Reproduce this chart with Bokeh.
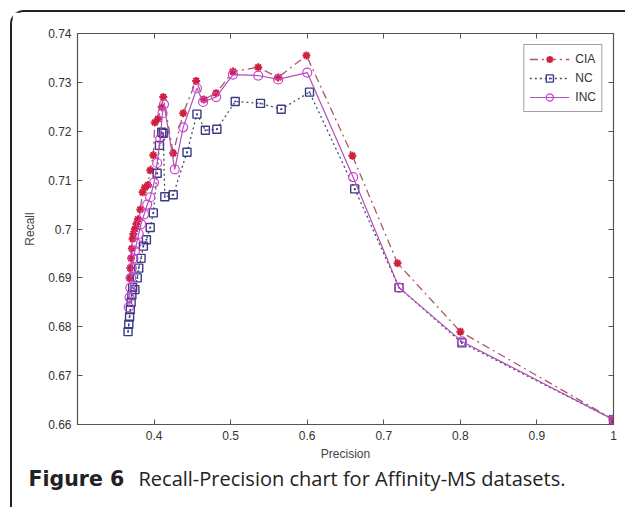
from bokeh.plotting import figure
from bokeh.layouts import column
from bokeh.models import (Range1d, LinearAxis, FixedTicker, CustomJSTickFormatter,
                          Legend, LegendItem, Label)
from bokeh.embed import file_html
from bokeh.resources import INLINE

# ---------------- data ----------------
cia_x = [0.368, 0.369, 0.370, 0.371, 0.372, 0.373, 0.375, 0.377, 0.379, 0.382, 0.385, 0.388,
         0.392, 0.395, 0.399, 0.401, 0.405, 0.410, 0.412, 0.425, 0.438, 0.455, 0.465, 0.481,
         0.503, 0.536, 0.562, 0.599, 0.659, 0.718, 0.800, 1.000]
cia_y = [0.690, 0.692, 0.694, 0.696, 0.698, 0.699, 0.700, 0.701, 0.702, 0.704, 0.7075, 0.7085,
         0.709, 0.712, 0.7151, 0.7218, 0.7225, 0.7249, 0.727, 0.7155, 0.7237, 0.7303, 0.7265,
         0.7278, 0.7322, 0.7331, 0.731, 0.7355, 0.715, 0.693, 0.679, 0.661]

nc_x = [0.366, 0.367, 0.368, 0.369, 0.370, 0.371, 0.372, 0.375, 0.378, 0.380, 0.383, 0.386,
        0.390, 0.395, 0.399, 0.404, 0.407, 0.410, 0.412, 0.414, 0.425, 0.443, 0.456, 0.467,
        0.482, 0.506, 0.539, 0.566, 0.603, 0.662, 0.720, 0.802, 1.000]
nc_y = [0.679, 0.6805, 0.682, 0.6835, 0.685, 0.6865, 0.688, 0.6876, 0.690, 0.692, 0.694,
        0.6965, 0.6978, 0.7003, 0.7033, 0.7114, 0.7171, 0.7198, 0.7196, 0.7066, 0.707, 0.7157,
        0.7235, 0.7202, 0.7204, 0.7261, 0.7257, 0.7245, 0.728, 0.7082, 0.688, 0.6767, 0.661]

inc_x = [0.367, 0.368, 0.369, 0.370, 0.371, 0.373, 0.375, 0.377, 0.380, 0.383, 0.387, 0.391,
         0.395, 0.400, 0.404, 0.408, 0.411, 0.413, 0.427, 0.438, 0.456, 0.464, 0.481, 0.503,
         0.536, 0.562, 0.600, 0.660, 0.720, 0.802, 1.000]
inc_y = [0.684, 0.686, 0.688, 0.690, 0.692, 0.694, 0.6955, 0.697, 0.699, 0.701, 0.703, 0.705,
         0.7065, 0.7095, 0.7135, 0.7185, 0.7237, 0.7255, 0.7122, 0.7208, 0.7288, 0.726, 0.727,
         0.7316, 0.7314, 0.7306, 0.732, 0.7106, 0.688, 0.677, 0.661]

x_ticks = [0.4, 0.5, 0.6, 0.7, 0.8, 0.9, 1.0]
y_ticks = [0.66, 0.67, 0.68, 0.69, 0.70, 0.71, 0.72, 0.73, 0.74]
series_names = ["CIA", "NC", "INC"]
x_label = "Precision"
y_label = "Recall"
caption_bold = "Figure 6"
caption_rest = "Recall-Precision chart for Affinity-MS datasets."

# ---------------- main figure ----------------
p = figure(width=613, height=451, output_backend="svg", toolbar_location=None,
           x_range=Range1d(0.3, 1.0), y_range=Range1d(0.66, 0.74),
           min_border_left=65, min_border_right=12, min_border_top=21, min_border_bottom=38,
           background_fill_color="white", border_fill_color="white")
p.frame_align = False
p.grid.visible = False
p.outline_line_color = "#555555"
p.outline_line_width = 1.2

fmt = CustomJSTickFormatter(code="return String(Math.round(tick*100)/100);")
FONT = "Liberation Sans"

def style_axis(ax, ticks, show_labels):
    ax.ticker = FixedTicker(ticks=ticks)
    ax.formatter = fmt
    ax.major_tick_in = 5
    ax.major_tick_out = 0
    ax.minor_tick_line_color = None
    ax.axis_line_color = "#555555"
    ax.major_tick_line_color = "#555555"
    ax.major_label_text_font = FONT
    ax.major_label_text_font_size = "12px"
    ax.major_label_text_color = "#333333" if show_labels else None
    ax.axis_label_text_font = FONT
    ax.axis_label_text_font_style = "normal"
    ax.axis_label_text_color = "#444444"
    ax.axis_label_text_font_size = "12px"

style_axis(p.xaxis[0], x_ticks, True)
style_axis(p.yaxis[0], y_ticks, True)
p.xaxis[0].axis_label = x_label
p.yaxis[0].axis_label = y_label
p.xaxis[0].major_label_standoff = 6
p.yaxis[0].major_label_standoff = 6
p.xaxis[0].axis_label_standoff = 4
p.yaxis[0].axis_label_standoff = 8

top_ax = LinearAxis()
style_axis(top_ax, x_ticks, False)
p.add_layout(top_ax, "above")
right_ax = LinearAxis()
style_axis(right_ax, y_ticks, False)
p.add_layout(right_ax, "right")

# ---------------- series ----------------
l_cia = p.line(cia_x, cia_y, line_color="#a85a66", line_width=1.3, line_dash="8 4 2 4")
m_cia = p.scatter(cia_x, cia_y, marker="asterisk", size=8, line_color="#d0203c", line_width=2)

l_nc = p.line(nc_x, nc_y, line_color="#4a4a6a", line_width=1.3, line_dash="2 3")
m_nc = p.scatter(nc_x, nc_y, marker="square_dot", size=8, line_color="#3a3a86",
                 fill_color=None, line_width=1.4)

l_inc = p.line(inc_x, inc_y, line_color="#b050b8", line_width=1.2)
m_inc = p.scatter(inc_x, inc_y, marker="circle", size=9, line_color="#d040d0",
                  fill_color=None, line_width=1.2)

legend = Legend(items=[
    LegendItem(label=series_names[0], renderers=[l_cia, m_cia]),
    LegendItem(label=series_names[1], renderers=[l_nc, m_nc]),
    LegendItem(label=series_names[2], renderers=[l_inc, m_inc]),
], location="top_right")
legend.margin = 11
legend.padding = 5
legend.spacing = 1
legend.glyph_width = 40
legend.glyph_height = 18
legend.label_standoff = 6
legend.label_text_font = FONT
legend.label_text_font_size = "12px"
legend.label_text_color = "#333333"
legend.border_line_color = "#444444"
legend.border_line_width = 1.2
legend.background_fill_alpha = 1
p.add_layout(legend, "center")

# ---------------- caption figure ----------------
cap = figure(width=613, height=44, output_backend="svg", toolbar_location=None,
             x_range=Range1d(0, 613), y_range=Range1d(44, 0),
             min_border=0, min_border_left=0, min_border_right=0,
             min_border_top=0, min_border_bottom=0,
             background_fill_color="white", border_fill_color="white")
cap.frame_align = False
cap.axis.visible = False
cap.grid.visible = False
cap.outline_line_color = None
cap.add_layout(Label(x=16, y=15, text=caption_bold, text_font="DejaVu Sans",
                     text_font_style="bold", text_font_size="20.5px", text_color="#222222",
                     text_baseline="alphabetic"))
cap.add_layout(Label(x=126, y=15, text=caption_rest, text_font="Open Sans",
                     text_font_size="20px", text_color="#222222", text_baseline="alphabetic"))

layout = column(p, cap, spacing=0, margin=(10, 0, 0, 10),
                styles={"border-left": "2px solid #222222",
                        "border-top": "2px solid #222222",
                        "border-top-left-radius": "14px",
                        "background": "white"})

open("out.html", "w").write(file_html(layout, INLINE))
